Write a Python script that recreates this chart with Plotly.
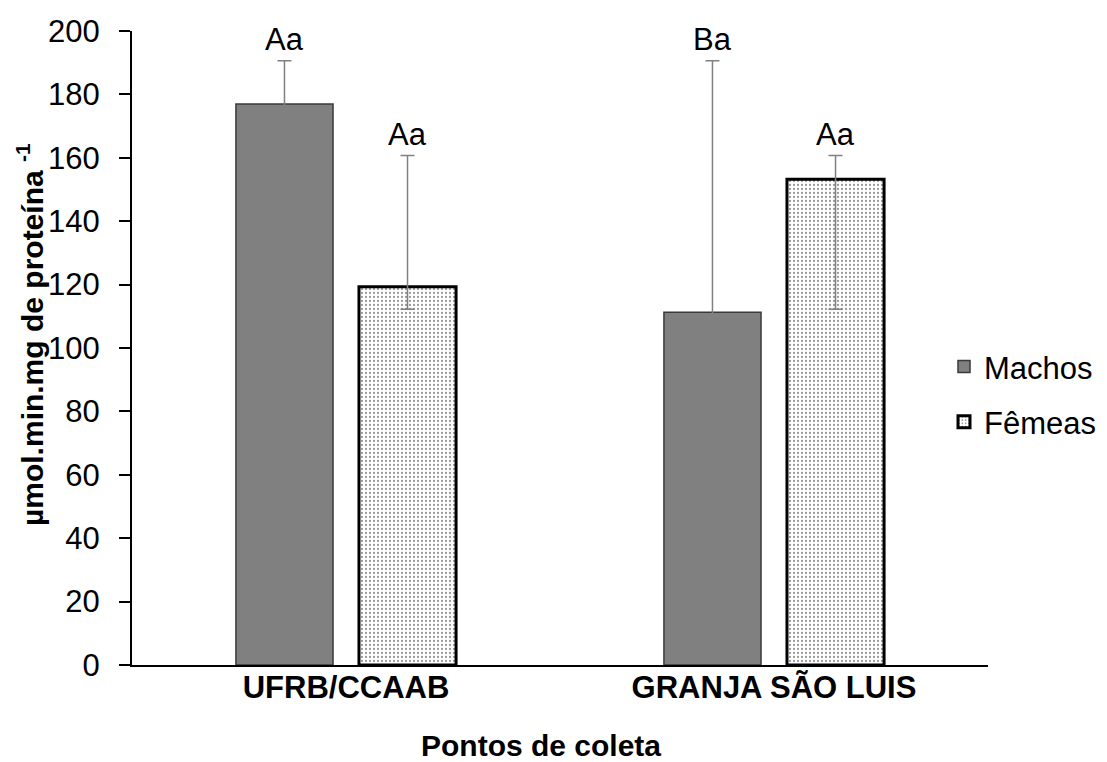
import plotly.graph_objects as go

# Atividade enzimática por ponto de coleta e sexo
locais = ["UFRB/CCAAB", "GRANJA SÃO LUIS"]
machos = [177.0, 111.3]
machos_mais = [13.6, 79.3]
machos_menos = [79.4, 13.7]
femeas = [119.3, 153.2]
femeas_mais = [41.4, 7.5]
femeas_menos = [7.1, 41.0]
letras_machos = ["Aa", "Ba"]
letras_femeas = ["Aa", "Aa"]

FONT = "Liberation Sans, Arial, sans-serif"
BARGAP = 0.425
GROUPGAP = 0.211

fig = go.Figure()
fig.add_trace(go.Bar(
    name="Machos", x=locais, y=machos,
    marker=dict(color="#808080", line=dict(color="#3a3a3a", width=1.5)),
    error_y=dict(type="data", symmetric=False, array=machos_mais, arrayminus=machos_menos,
                 color="#808080", thickness=1.5, width=7),
    legendgroup="m",
))
fig.add_trace(go.Bar(
    name="Fêmeas", x=locais, y=femeas,
    marker=dict(color="white", line=dict(color="black", width=3),
                pattern=dict(shape=".", fgcolor="#333333", bgcolor="white", size=4, solidity=0.25)),
    error_y=dict(type="data", symmetric=False, array=femeas_mais, arrayminus=femeas_menos,
                 color="#808080", thickness=1.5, width=7),
    legendgroup="f",
))

# letras de significância acima das barras de erro
slot = (1 - BARGAP) / 2
for i in range(len(locais)):
    for off, vals, plus, txt in ((-slot / 2, machos, machos_mais, letras_machos),
                                 (slot / 2, femeas, femeas_mais, letras_femeas)):
        fig.add_annotation(x=i + off, y=vals[i] + plus[i], xref="x", yref="y",
                           text=txt[i], showarrow=False, yanchor="bottom", yshift=2,
                           font=dict(family=FONT, size=31, color="black"))

fig.add_annotation(x=(541 - 132) / 856, y=(665 - 745) / 634, xref="paper", yref="paper",
                   xanchor="center", yanchor="middle",
                   text="<b>Pontos de coleta</b>", showarrow=False,
                   font=dict(family=FONT, size=30, color="black"))
fig.add_annotation(x=(30 - 132) / 856, y=(665 - 335) / 634, xref="paper", yref="paper",
                   xanchor="center", yanchor="middle",
                   text="<b>µmol.min.mg de proteína <sup>-1</sup></b>", showarrow=False,
                   textangle=-90, font=dict(family=FONT, size=30, color="black"))

fig.update_layout(
    width=1107, height=762,
    margin=dict(l=132, r=119, t=31, b=97, autoexpand=False),
    paper_bgcolor="white", plot_bgcolor="white",
    barmode="group", bargap=BARGAP, bargroupgap=GROUPGAP,
    font=dict(family=FONT, size=31, color="black"),
    showlegend=True,
    legend=dict(x=0.9486, y=0.427, xanchor="left", yanchor="middle",
                font=dict(family=FONT, size=31, color="black"),
                tracegroupgap=12, bgcolor="rgba(0,0,0,0)"),
    xaxis=dict(type="category", showline=True, linecolor="black", linewidth=2,
               ticks="", showgrid=False, range=[-0.5, 1.5],
               tickfont=dict(family=FONT, size=31, color="black"),
               tickprefix="<b>", ticksuffix="</b>", ticklabelstandoff=-6),
    yaxis=dict(range=[0, 200], dtick=20, showline=True, linecolor="black", linewidth=2,
               ticks="outside", ticklen=11, tickwidth=2, tickcolor="black",
               showgrid=False, zeroline=False, ticklabelstandoff=13,
               tickfont=dict(family=FONT, size=31, color="black")),
)

fig.write_html("out.html")
